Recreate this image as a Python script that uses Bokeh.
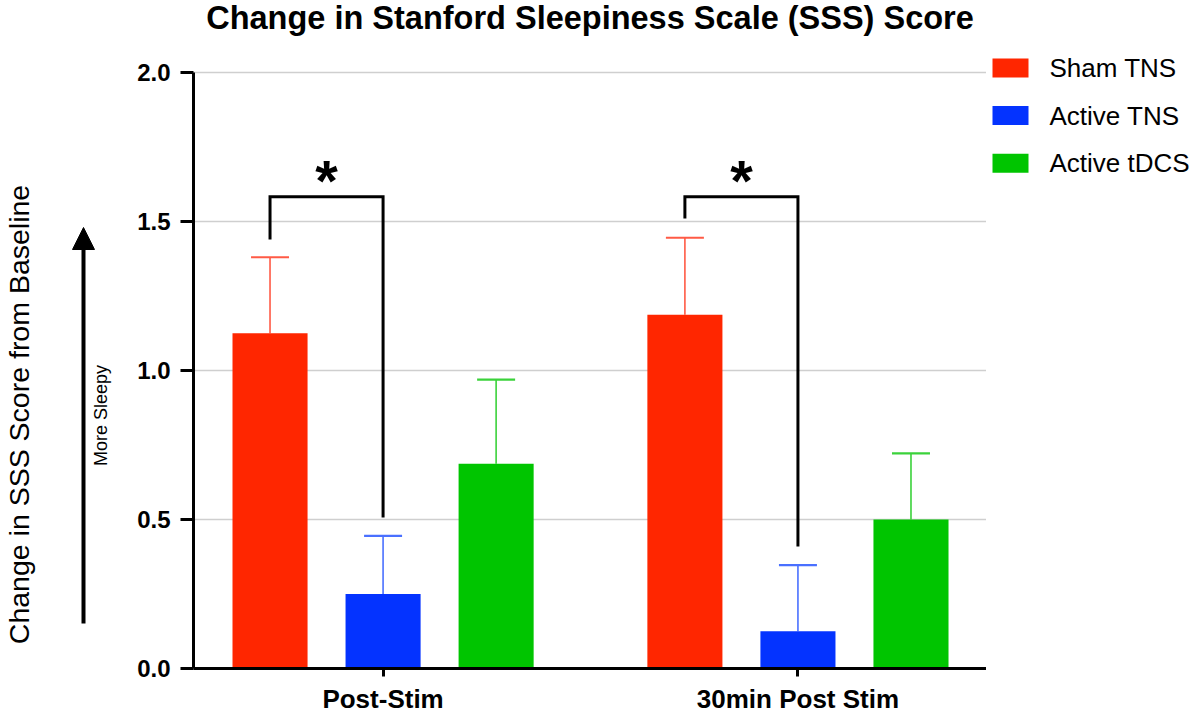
import math
from bokeh.plotting import figure
from bokeh.layouts import row
from bokeh.models import (ColumnDataSource, FixedTicker, Whisker, TeeHead, Arrow,
                          NormalHead, Range1d, PrintfTickFormatter, CustomJSTickFormatter)
from bokeh.embed import file_html
from bokeh.resources import INLINE
from bokeh.core.properties import value

# ---------------- data ----------------
title_text = "Change in Stanford Sleepiness Scale (SSS) Score"
y_label_text = "Change in SSS Score from Baseline"
arrow_text = "More Sleepy"
timepoints = ["Post-Stim", "30min Post Stim"]
groups = ["Sham TNS", "Active TNS", "Active tDCS"]
sham_mean = [1.125, 1.1875]
sham_sem = [0.255, 0.258]
active_tns_mean = [0.25, 0.125]
active_tns_sem = [0.195, 0.222]
active_tdcs_mean = [0.6875, 0.50]
active_tdcs_sem = [0.282, 0.222]
y_ticks = [0.0, 0.5, 1.0, 1.5, 2.0]
sig_left_end = [1.44, 1.51]
sig_top = [1.583, 1.583]
sig_right_end = [0.507, 0.409]
sig_mark = ["*", "*"]

# ---------------- styling / layout ----------------
FONT = "Liberation Sans"
bar_colors = ["#ff2600", "#0433ff", "#00c500"]
err_colors = ["#ff5a45", "#4a70ff", "#3ad23a"]
group_x = [1.0, 4.67]
offsets = [-1, 0, 1]
bar_w = 0.664
H = 716
BOTTOM = 48                      # space under the plotting area
FRAME_H = H - BOTTOM             # frames run from the top of the page to the x axis
PX_PER_UNIT = 298.0              # vertical pixels per SSS unit
Y_TOP = FRAME_H / PX_PER_UNIT    # room above 2.0 for the title
LEFT_W, MAIN_W, RIGHT_W = 120, 866, 214

means = [sham_mean, active_tns_mean, active_tdcs_mean]
sems = [sham_sem, active_tns_sem, active_tdcs_sem]


def blank_fig(w):
    # pixel-coordinate side panel: data y = distance from the page bottom
    f = figure(width=w, height=H, x_range=Range1d(0, w), y_range=Range1d(BOTTOM, H),
               output_backend="svg", toolbar_location=None, title=None,
               x_axis_type=None, y_axis_type=None,
               min_border_left=0, min_border_right=0, min_border_top=0,
               min_border_bottom=BOTTOM)
    f.outline_line_color = None
    f.xgrid.visible = False
    f.ygrid.visible = False
    return f


# ---------- left panel: axis title and "More Sleepy" arrow ----------
L = blank_fig(LEFT_W)
L.text(x=[18], y=[H - 414], text=[y_label_text], angle=math.pi / 2,
       text_font=value(FONT), text_font_size="28.5px", text_align="center",
       text_baseline="middle", text_color="black")
L.text(x=[100], y=[H - 415], text=[arrow_text], angle=math.pi / 2,
       text_font=value(FONT), text_font_size="18px", text_align="center",
       text_baseline="middle", text_color="black")
L.add_layout(Arrow(x_start=83, y_start=H - 623, x_end=83, y_end=H - 227,
                   line_width=4, line_color="black",
                   end=NormalHead(size=22, fill_color="black", line_color="black")))

# ---------- main chart ----------
p = figure(width=MAIN_W, height=H, title=None,
           x_range=Range1d(-0.677, 6.338), y_range=Range1d(0, Y_TOP),
           output_backend="svg", toolbar_location=None,
           min_border_left=73, min_border_right=0,
           min_border_top=0, min_border_bottom=BOTTOM)
p.outline_line_color = None

renderers = []
for i, name in enumerate(groups):
    xs = [g + offsets[i] for g in group_x]
    uppers = [m + s for m, s in zip(means[i], sems[i])]
    src = ColumnDataSource(dict(x=xs, top=means[i], upper=uppers))
    r = p.vbar(x="x", top="top", bottom=0, width=bar_w, source=src,
               fill_color=bar_colors[i], line_color=None)
    renderers.append(r)
    p.add_layout(Whisker(base="x", lower="top", upper="upper", source=src, dimension="height",
                         line_color=err_colors[i], line_width=1.6, lower_head=None,
                         upper_head=TeeHead(size=38, line_color=err_colors[i], line_width=2.2)))

# significance brackets
bx, by = [], []
for k, g in enumerate(group_x):
    xl = g + offsets[0]
    xr = g + offsets[1]
    bx.append([xl, xl, xr, xr])
    by.append([sig_left_end[k], sig_top[k], sig_top[k], sig_right_end[k]])
p.multi_line(xs=bx, ys=by, line_color="black", line_width=3, line_join="miter")
star_x = [g + (offsets[0] + offsets[1]) / 2 for g in group_x]
star_y = [t + 0.056 for t in sig_top]
p.text(x=star_x, y=star_y, text=sig_mark, text_font=value(FONT), text_font_style="bold",
       text_font_size="58px", text_align="center", text_baseline="middle", text_color="black")

# chart title, centred over the plotting area
p.text(x=[(p.x_range.start + p.x_range.end) / 2], y=[(FRAME_H - 17) / PX_PER_UNIT],
       text=[title_text], text_font=value(FONT), text_font_style="bold",
       text_font_size="32.5px", text_align="center", text_baseline="middle",
       text_color="black")

p.xgrid.visible = False
p.ygrid.ticker = FixedTicker(ticks=y_ticks)
p.ygrid.grid_line_color = "#cfcfcf"
p.ygrid.grid_line_width = 1.5

for ax in (p.xaxis[0], p.yaxis[0]):
    ax.axis_line_width = 3
    ax.axis_line_color = "black"
    ax.major_tick_line_width = 3
    ax.major_tick_line_color = "black"
    ax.major_tick_in = 0
    ax.minor_tick_in = 0
    ax.minor_tick_out = 0
    ax.major_label_text_font = FONT
    ax.major_label_text_font_style = "bold"
    ax.major_label_text_color = "black"

p.yaxis.ticker = FixedTicker(ticks=y_ticks)
p.yaxis.bounds = (y_ticks[0], y_ticks[-1])
p.yaxis.formatter = PrintfTickFormatter(format="%.1f")
p.yaxis.major_tick_out = 13
p.yaxis.major_label_text_font_size = "24px"
p.yaxis.major_label_standoff = 10

p.xaxis.ticker = FixedTicker(ticks=group_x)
p.xaxis.formatter = CustomJSTickFormatter(
    args=dict(centers=group_x, names=timepoints),
    code="const i = centers.findIndex(c => Math.abs(c - tick) < 1e-6); return i >= 0 ? names[i] : '';")
p.xaxis.major_tick_out = 8
p.xaxis.major_label_text_font_size = "26px"
p.xaxis.major_label_standoff = 7

# ---------- right panel: legend ----------
R = blank_fig(RIGHT_W)
legend_centers = [H - 67.5, H - 115, H - 162.7]
R.quad(left=[6] * 3, right=[42] * 3,
       bottom=[c - 9.5 for c in legend_centers], top=[c + 9.5 for c in legend_centers],
       fill_color=bar_colors, line_color=None)
R.text(x=[63] * 3, y=legend_centers, text=groups, text_font=value(FONT),
       text_font_size="26px", text_align="left", text_baseline="middle", text_color="black")

layout = row(L, p, R)
open("out.html", "w").write(file_html(layout, INLINE))
